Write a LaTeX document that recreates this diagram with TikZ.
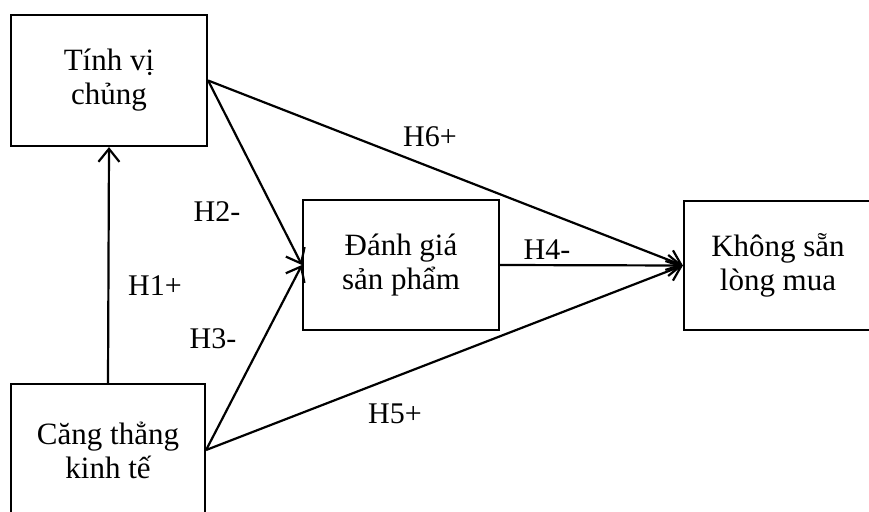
\documentclass[tikz,border=0pt]{standalone}
\usepackage{fontspec}
\setmainfont{Liberation Serif}
\usetikzlibrary{arrows.meta}
\begin{document}
\begin{tikzpicture}[x=1pt,y=-1pt,
  boxnode/.style={draw, line width=2.2pt, minimum width=#1, inner sep=0pt, align=center,
    font=\fontsize{31}{34}\selectfont},
  lbl/.style={font=\fontsize{30}{32}\selectfont, inner sep=0pt},
  conn/.style={line width=2.2pt, -{Straight Barb[length=13pt,width=21pt,line width=2.2pt]}},
  plain/.style={line width=2.2pt}]
\useasboundingbox (0,0) rectangle (869,511);
\clip (0,0) rectangle (869,511);
\node[boxnode=196pt, minimum height=131pt] (tv) at (109,80.5) {Tính vị\\chủng};
\node[boxnode=196pt, minimum height=130pt] (dg) at (401,265) {Đánh giá\\sản phẩm};
\node[boxnode=188pt, minimum height=129pt] (ks) at (778,265.5) {Không sẵn\\lòng mua};
\node[boxnode=194pt, minimum height=132pt] (ct) at (108,450) {Căng thẳng\\kinh tế};
\draw[conn] (ct.north) -- (tv.south);
\draw[conn] (tv.east) -- (dg.west);
\draw[conn] (ct.east) -- (dg.west);
\draw[conn] (dg.east) -- (ks.west);
\draw[conn] (tv.east) -- (ks.west);
\draw[conn] (ct.east) -- (ks.west);
\node[lbl] (h1) at (155,286) {H1+};
\node[lbl] (h2) at (217,212) {H2-};
\node[lbl] (h3) at (213,339) {H3-};
\node[lbl] (h4) at (547,250) {H4-};
\node[lbl] (h5) at (395,414) {H5+};
\node[lbl] (h6) at (430,137) {H6+};
\end{tikzpicture}
\end{document}
